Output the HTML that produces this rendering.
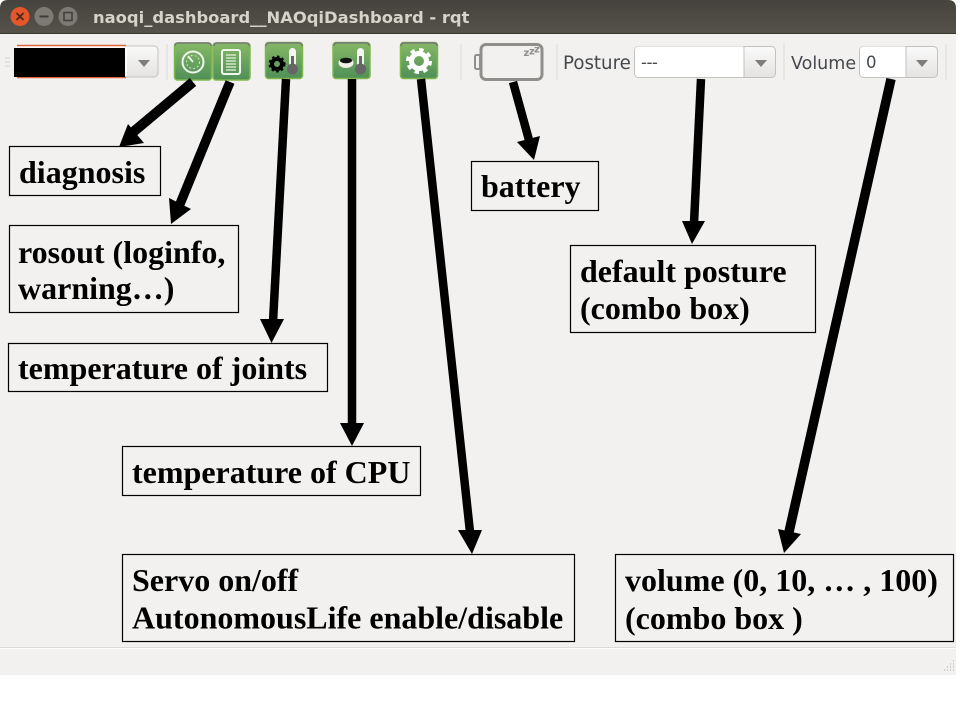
<!DOCTYPE html>
<html><head><meta charset="utf-8"><style>
html,body{margin:0;padding:0;background:#fff}
svg{display:block}
.l{font:bold 32px "Liberation Serif",serif;fill:#000}
.u{font:18px "DejaVu Sans","Liberation Sans",sans-serif;fill:#45484c}
</style></head><body>
<svg width="960" height="720" viewBox="0 0 960 720" xmlns="http://www.w3.org/2000/svg">
<defs>
<linearGradient id="t" x1="0" y1="0" x2="0" y2="1"><stop offset="0" stop-color="#45433d"/><stop offset="1" stop-color="#55524a"/></linearGradient>
<linearGradient id="g" x1="0" y1="0" x2="0" y2="1"><stop offset="0" stop-color="#86b966"/><stop offset="1" stop-color="#4f8f58"/></linearGradient>
<linearGradient id="b" x1="0" y1="0" x2="0" y2="1"><stop offset="0" stop-color="#fafafa"/><stop offset="1" stop-color="#e4e3e1"/></linearGradient>
</defs>
<rect width="960" height="720" fill="#fff"/>
<rect x="0" y="33" width="956" height="642" fill="#f2f1f0"/>
<path d="M0 33V8Q0 0 8 0H948Q956 0 956 8V33Z" fill="url(#t)"/>
<rect x="0" y="33" width="956" height="1" fill="#3a3833"/>
<circle cx="20" cy="16.500" r="9.500" fill="#e5562a"/><path d="M16.500 13L23.500 20M23.500 13L16.500 20" stroke="#4a2a1a" stroke-width="1.800"/>
<circle cx="44" cy="16.500" r="9.500" fill="#7c7a72"/><rect x="39.500" y="15.500" width="9" height="2" fill="#3f3e39"/>
<circle cx="68" cy="16.500" r="9.500" fill="#7c7a72"/><rect x="64" y="12.500" width="8" height="8" fill="none" stroke="#3f3e39" stroke-width="1.500"/>
<text x="93" y="23" style="font:bold 16.350px 'DejaVu Sans','Liberation Sans',sans-serif;fill:#d6d3c9">naoqi_dashboard__NAOqiDashboard - rqt</text>

<!-- toolbar -->
<rect x="15" y="46" width="143" height="31" rx="4" fill="url(#b)" stroke="#c4c2bf"/>
<rect x="15" y="46" width="112" height="31" rx="3" fill="#fff"/>
<path d="M17 45.500H126M17 77.500H126" stroke="#e0633a" stroke-width="1.500"/>
<rect x="14" y="48" width="111" height="29" fill="#000"/>
<path d="M138 60H150L144 67Z" fill="#807e7a"/>
<rect x="166.500" y="44" width="1" height="36" fill="#dcdbd9"/>
<path d="M5 58h5M5 62h5M5 66h5" stroke="#dedddb" stroke-width="1.500"/>

<rect x="174.500" y="43" width="37" height="37" rx="3" fill="url(#g)" stroke="#7fb84a" stroke-width="1.500"/>
<path d="M175 46q0-3 3-3H208q3 0 3 3" fill="none" stroke="#777" stroke-width="1.500"/>
<circle cx="193" cy="62" r="10.500" fill="none" stroke="#eef5ea" stroke-width="2"/><path d="M193 62L188 56" stroke="#eef5ea" stroke-width="1.800"/><circle cx="193" cy="62" r="6.500" fill="none" stroke="#d8e8d0" stroke-width="1" stroke-dasharray="2 2"/>
<rect x="213" y="43" width="37" height="37" rx="3" fill="url(#g)" stroke="#7fb84a" stroke-width="1.500"/>
<path d="M214 46q0-3 3-3H246q3 0 3 3" fill="none" stroke="#777" stroke-width="1.500"/>
<rect x="222" y="50" width="18" height="24" rx="2" fill="none" stroke="#f2f7ee" stroke-width="2"/><path d="M226 55h10M226 58h10M226 61h10M226 64h10M226 67h10M226 70h10" stroke="#e8f2e2" stroke-width="1.300"/>
<rect x="265.500" y="42.500" width="37" height="36" rx="3" fill="url(#g)" stroke="#7fb84a" stroke-width="1.500"/>
<path d="M266 46q0-3 3-3H299q3 0 3 3" fill="none" stroke="#777" stroke-width="1.500"/>
<circle cx="277" cy="64" r="5" fill="none" stroke="#000" stroke-width="4"/><circle cx="277" cy="64" r="7.500" fill="none" stroke="#000" stroke-width="2" stroke-dasharray="2.500 2.500"/>
<rect x="289" y="48" width="7" height="22" rx="3.500" fill="#f4f4f0"/><circle cx="292.500" cy="69" r="5.500" fill="#666"/><rect x="291" y="56" width="3" height="12" fill="#666"/>
<rect x="333" y="42.500" width="37" height="36" rx="3" fill="url(#g)" stroke="#7fb84a" stroke-width="1.500"/>
<path d="M334 46q0-3 3-3H366q3 0 3 3" fill="none" stroke="#777" stroke-width="1.500"/>
<ellipse cx="346" cy="63" rx="7.500" ry="5" fill="#f0f0e8"/><ellipse cx="346" cy="60.500" rx="6" ry="2.800" fill="#111"/>
<rect x="357" y="48" width="7" height="22" rx="3.500" fill="#f4f4f0"/><circle cx="360.500" cy="69" r="5.500" fill="#666"/><rect x="359" y="56" width="3" height="12" fill="#666"/>
<rect x="400.500" y="42.500" width="37" height="36" rx="3" fill="url(#g)" stroke="#7fb84a" stroke-width="1.500"/>
<path d="M401 46q0-3 3-3H434q3 0 3 3" fill="none" stroke="#777" stroke-width="1.500"/>
<circle cx="419" cy="61" r="7.500" fill="none" stroke="#fff" stroke-width="5"/><circle cx="419" cy="61" r="11" fill="none" stroke="#fff" stroke-width="4" stroke-dasharray="4.300 4.300"/>
<rect x="460.500" y="44" width="1" height="36" fill="#dcdbd9"/>
<rect x="481" y="44.500" width="61" height="35" rx="5" fill="none" stroke="#8f8e8b" stroke-width="3"/>
<rect x="475" y="55" width="5" height="14" rx="1.500" fill="none" stroke="#8f8e8b" stroke-width="2"/>
<text x="523.500" y="56" style="font:bold 10px 'DejaVu Sans',sans-serif;fill:#8f8e8b">z</text><text x="529" y="54.500" style="font:bold 10px 'DejaVu Sans',sans-serif;fill:#8f8e8b">z</text><text x="534" y="52.500" style="font:bold 10px 'DejaVu Sans',sans-serif;fill:#8f8e8b">z</text>
<rect x="556.500" y="44" width="1" height="36" fill="#dcdbd9"/>
<text x="563" y="69" class="u" style="font-size:18.200px">Posture</text>
<rect x="634.500" y="46.500" width="141" height="31" rx="4" fill="url(#b)" stroke="#c4c2bf"/>
<path d="M635 50.500q0-4 4-4H743.500V77H639q-4 0-4-4Z" fill="#fff"/><rect x="743.500" y="47" width="1" height="30" fill="#c4c2bf"/>
<text x="641" y="68" class="u" style="font-size:16.500px;letter-spacing:-0.500px">---</text>
<path d="M755 60H767L761 67Z" fill="#807e7a"/>
<rect x="783.500" y="44" width="1" height="36" fill="#dcdbd9"/>
<text x="791" y="69" class="u" style="font-size:17.500px">Volume</text>
<rect x="859.500" y="46.500" width="78" height="31" rx="4" fill="url(#b)" stroke="#c4c2bf"/>
<path d="M860 50.500q0-4 4-4H905.500V77H864q-4 0-4-4Z" fill="#fff"/><rect x="905.500" y="47" width="1" height="30" fill="#c4c2bf"/>
<text x="866" y="68" class="u" style="font-size:16.500px">0</text>
<path d="M916 60H928L922 67Z" fill="#807e7a"/>
<rect x="945.500" y="44" width="1" height="36" fill="#dcdbd9"/>

<!-- status bar -->
<rect x="0" y="647" width="956" height="1" fill="#dddcda"/><rect x="0" y="648" width="956" height="1" fill="#fbfbfa"/>
<path d="M953 661h1M950 664h1M953 664h1M947 667h1M950 667h1M953 667h1M944 670h1M947 670h1M950 670h1M953 670h1" stroke="#cfcecc" stroke-width="2"/>

<!-- boxes -->
<g fill="#f2f1f0" stroke="#000" stroke-width="1.200">
<rect x="9.500" y="146.500" width="151" height="49"/>
<rect x="9.500" y="225.500" width="229" height="87"/>
<rect x="8.500" y="343.500" width="319" height="48"/>
<rect x="122.500" y="446.500" width="298" height="49"/>
<rect x="122.500" y="554.500" width="452" height="87"/>
<rect x="471.500" y="161.500" width="127" height="49"/>
<rect x="570.500" y="245.500" width="245" height="87"/>
<rect x="615.500" y="554.500" width="338" height="87"/>
</g>

<!-- arrows -->
<g stroke="#000" fill="none">
<path stroke-width="10" d="M193 82L132 133"/><path stroke-width="9.500" d="M230 82L180 204"/><path stroke-width="8.500" d="M286 79L273 322"/><path stroke-width="8.500" d="M352 79L352 425"/><path stroke-width="8.500" d="M421 79L470 532"/><path stroke-width="8.500" d="M513 82L529 140"/><path stroke-width="8.500" d="M701 79L694 223"/><path stroke-width="9.500" d="M891 79L789 532"/>
</g>
<g fill="#000">
<path d="M119 147L128 124L144 143Z"/><path d="M171 224L169 198L191 209Z"/><path d="M271.500 343L260 319L284 319Z"/><path d="M352 446L340 423L364 423Z"/><path d="M472 554L458 530L482 530Z"/><path d="M534 160L517 142L540 136Z"/><path d="M692 244L682 221L705 221Z"/><path d="M784 553L778 529L801 534Z"/>
</g>

<text class="l" x="19" y="183">diagnosis</text>
<text class="l" x="18" y="263">rosout (loginfo,</text>
<text class="l" x="18" y="299">warning…)</text>
<text class="l" x="18" y="379">temperature of joints</text>
<text class="l" x="132" y="483">temperature of CPU</text>
<text class="l" x="132" y="591">Servo on/off</text>
<text class="l" x="132" y="628.500">AutonomousLife enable/disable</text>
<text class="l" x="481" y="197">battery</text>
<text class="l" x="580" y="282">default posture</text>
<text class="l" x="580" y="319">(combo box)</text>
<text class="l" x="625" y="591">volume (0, 10, … , 100)</text>
<text class="l" x="625" y="629">(combo box )</text>
</svg>
</body></html>
